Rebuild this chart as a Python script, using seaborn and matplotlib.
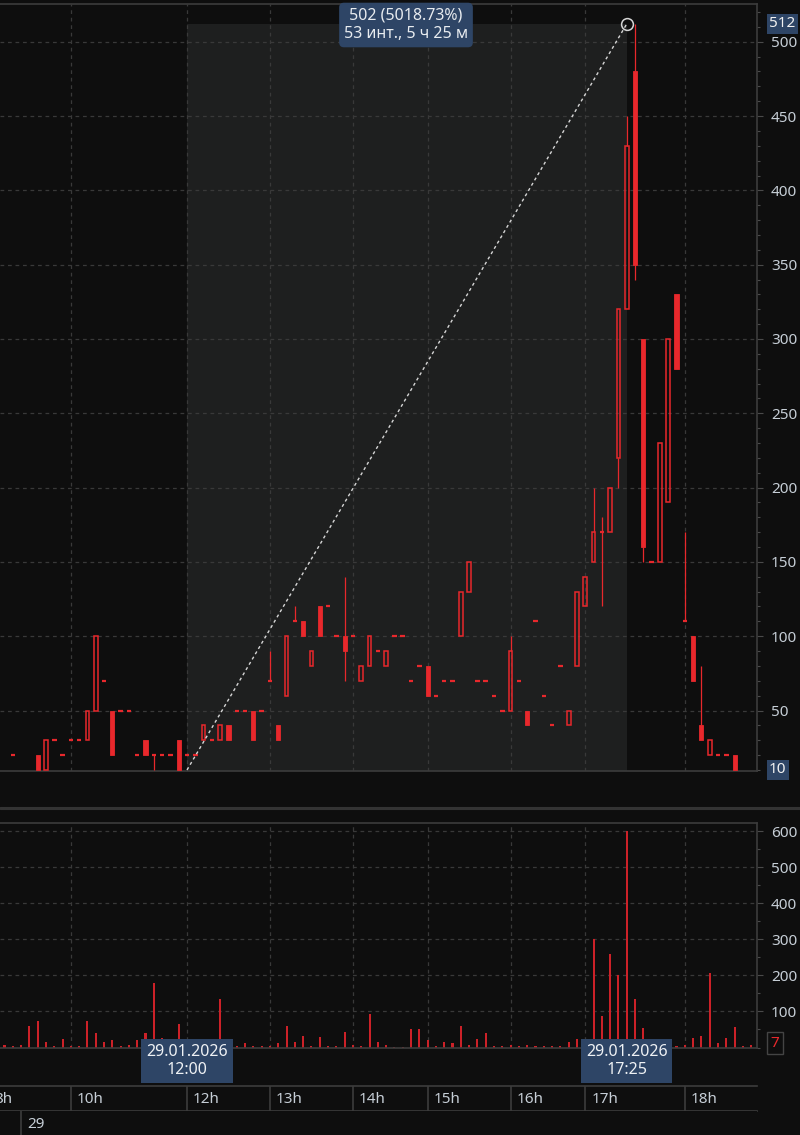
import numpy as np
import matplotlib
matplotlib.use("Agg")
import matplotlib.pyplot as plt
import matplotlib.transforms as mtransforms
from matplotlib.lines import Line2D
from matplotlib.ticker import MultipleLocator
import seaborn as sns

nan = np.nan

# 5-minute bars on an index axis (slot number), nan = no trade shown
opens = [nan, 20, nan, nan, 20, 10, 30, 20, 30, 30, 30, 50, 70, 50, 50, 50, 20, 30, 20, 20,
         20, 30, 20, 20, 30, 30, 30, 40, 50, 50, 50, 50, 70, 40, 60, 110, 110, 80, 120, 120,
         100, 100, 100, 70, 80, 90, 80, 100, 100, 70, 80, 80, 60, 70, 70, 100, 130, 70, 70, 60,
         50, 50, 70, 50, 110, 60, 40, 80, 40, 80, 120, 150, 170, 170, 220, 320, 480, 300, 150, 150,
         190, 330, 110, 100, 40, 20, 20, 20, 20, nan, nan]
highs = [nan, 20, nan, nan, 20, 30, 30, 20, 30, 30, 50, 100, 70, 50, 50, 50, 20, 30, 20, 20,
         20, 30, 20, 20, 40, 30, 40, 40, 50, 50, 50, 50, 90, 40, 100, 120, 110, 90, 120, 120,
         100, 140, 100, 80, 100, 90, 90, 100, 100, 70, 80, 80, 60, 70, 70, 130, 150, 70, 70, 60,
         50, 100, 70, 50, 110, 60, 40, 80, 50, 130, 140, 200, 180, 200, 320, 450, 512, 300, 150, 230,
         300, 330, 170, 100, 80, 30, 20, 20, 20, nan, nan]
lows = [nan, 20, nan, nan, 10, 10, 30, 20, 30, 30, 30, 50, 70, 20, 50, 50, 20, 20, 10, 20,
        20, 10, 20, 20, 30, 30, 30, 30, 50, 50, 30, 50, 70, 30, 60, 110, 100, 80, 100, 120,
        100, 70, 100, 70, 80, 90, 80, 100, 100, 70, 80, 60, 60, 70, 70, 100, 130, 70, 70, 60,
        50, 50, 70, 40, 110, 60, 40, 80, 40, 80, 120, 150, 120, 170, 200, 320, 340, 150, 150, 150,
        190, 280, 110, 70, 30, 20, 20, 20, 10, nan, nan]
closes = [nan, 20, nan, nan, 10, 30, 30, 20, 30, 30, 50, 100, 70, 20, 50, 50, 20, 20, 20, 20,
          20, 10, 20, 20, 40, 30, 40, 30, 50, 50, 30, 50, 70, 30, 100, 110, 100, 90, 100, 120,
          100, 90, 100, 80, 100, 90, 90, 100, 100, 70, 80, 60, 60, 70, 70, 130, 150, 70, 70, 60,
          50, 90, 70, 40, 110, 60, 40, 80, 50, 130, 140, 170, 170, 200, 320, 430, 350, 160, 150, 230,
          300, 280, 110, 70, 30, 30, 20, 20, 10, nan, nan]
volumes = [8, 4, 8, 60, 73, 16, 4, 24, 3, 4, 73, 40, 16, 20, 4, 8, 20, 40, 178, 25,
           5, 65, 5, 5, 5, 5, 135, 5, 3, 13, 4, 4, 4, 13, 60, 16, 32, 4, 28, 4,
           4, 44, 8, 4, 94, 16, 8, 2, 2, 52, 52, 20, 3, 16, 13, 60, 8, 24, 40, 4,
           3, 8, 4, 8, 3, 3, 3, 4, 16, 24, 10, 300, 87, 261, 201, 600, 136, 53, 10, 10,
           10, 4, 8, 25, 32, 207, 13, 25, 57, 4, 7]

hour_ticks = [-2, 8, 22, 32, 42, 51, 61, 70, 82]
hour_labels = ["8h", "10h", "12h", "13h", "14h", "15h", "16h", "17h", "18h"]
day_ticks = [2]
day_labels = ["29"]
price_ticks = [50, 100, 150, 200, 250, 300, 350, 400, 450, 500]
volume_ticks = [100, 200, 300, 400, 500, 600]

measure_slots = [22, 75]
measure_prices = [10, 512]
measure_text = "502 (5018.73%)\n53 инт., 5 ч 25 м"
date_labels = ["29.01.2026\n12:00", "29.01.2026\n17:25"]
last_price = 10
last_volume = 7

BG = "#0e0e0e"
SHADE = "#1e1f1f"
GRID = "#393939"
FRAME = "#3c3c3c"
TXT = "#c6ced6"
RED = "#e8282c"
VOL_RED = "#cc2128"
BOX = "#2e4566"

sns.set_style("dark", rc={"axes.facecolor": BG, "figure.facecolor": BG})
plt.rcParams["font.family"] = ["Noto Sans", "DejaVu Sans"]

W, H = 800, 1135
fig = plt.figure(figsize=(W / 100, H / 100), dpi=100)


def box(top, bottom, left=0, right=757):
    return [left / W, 1 - bottom / H, (right - left) / W, (bottom - top) / H]


ax = fig.add_axes(box(4, 771))
ax_vol = fig.add_axes(box(823, 1047.5))
ax_time = fig.add_axes(box(1085.7, 1110.7))
ax_day = fig.add_axes(box(1110.7, 1135))

xlim = (-0.54, 90.7)
o = np.array(opens, float)
h = np.array(highs, float)
l = np.array(lows, float)
c = np.array(closes, float)
slots = np.arange(len(o))
ok = ~np.isnan(o)
lo_body = np.minimum(o, c)
hi_body = np.maximum(o, c)
up = ok & (c > o)
down = ok & (c < o)
flat = ok & (c == o)

# ---- price panel
ylim = (9.3, 525.4)
ax.fill_between(measure_slots, ylim[0], measure_prices[1], color=SHADE, lw=0, zorder=0.2)
ax.vlines(slots[ok], l[ok], lo_body[ok], color=RED, lw=0.9, zorder=3)
ax.vlines(slots[ok], hi_body[ok], h[ok], color=RED, lw=0.9, zorder=3)
ax.bar(slots[down], (hi_body - lo_body)[down], bottom=lo_body[down], width=0.5,
       color=RED, edgecolor=RED, lw=0.6, zorder=3)
ax.bar(slots[up], (hi_body - lo_body)[up], bottom=lo_body[up], width=0.45,
       facecolor="none", edgecolor=RED, lw=1.1, zorder=3)
ax.hlines(o[flat], slots[flat] - 0.27, slots[flat] + 0.27, color=RED, lw=1.6, zorder=3)

ax.plot(measure_slots, measure_prices, ls=(0, (2.2, 2.2)), color="#d6d6d6", lw=1.0, zorder=4)
ax.plot(measure_slots[1], measure_prices[1], "o", ms=8.5, mfc="none", mec="#d6d6d6", mew=1.1, zorder=5)

ax.set_xticks(hour_ticks)
ax.set_xticklabels([])
ax.set_yticks(price_ticks)
ax.set_xlim(xlim)
ax.set_ylim(ylim)
ax.yaxis.set_minor_locator(MultipleLocator(10))
ax.yaxis.tick_right()
ax.set_axisbelow(True)
ax.grid(True, which="major", color=GRID, ls=(0, (3, 3)), lw=0.9)
ax.tick_params(axis="x", length=0)
ax.tick_params(axis="y", which="major", length=4, width=0.8, color="#4a4a4a",
               labelcolor=TXT, labelsize=11, pad=6)
ax.tick_params(axis="y", which="minor", length=2.5, width=0.8, color="#4a4a4a")
for side, sp in ax.spines.items():
    sp.set_color(FRAME)
    sp.set_linewidth(1.2)
    sp.set_visible(side != "left")

right_tr = mtransforms.blended_transform_factory(ax.transAxes, ax.transData)
for val in [measure_prices[1], last_price]:
    ax.text(1.016, val, str(val), transform=right_tr, ha="left", va="center", fontsize=11,
            color="#f2f2f2", bbox=dict(boxstyle="square,pad=0.15", fc=BOX, ec="none"), zorder=6)

fig.text(406 / W, 1 - 25 / H, measure_text, ha="center", va="center", fontsize=11.5,
         color="#e8ecf0", linespacing=1.25,
         bbox=dict(boxstyle="round,pad=0.3,rounding_size=0.3", fc=BOX, ec="none"))

# ---- volume panel
sns.barplot(x=slots, y=volumes, native_scale=True, width=0.25, color=VOL_RED,
            saturation=1, errorbar=None, linewidth=0, ax=ax_vol)
ax_vol.set_xlabel("")
ax_vol.set_ylabel("")
ax_vol.set_xticks(hour_ticks)
ax_vol.set_xticklabels([])
ax_vol.set_yticks(volume_ticks)
ax_vol.set_xlim(xlim)
ax_vol.set_ylim(0, 623.6)
ax_vol.yaxis.set_minor_locator(MultipleLocator(50))
ax_vol.yaxis.tick_right()
ax_vol.set_axisbelow(True)
ax_vol.grid(True, which="major", color=GRID, ls=(0, (3, 3)), lw=0.9)
ax_vol.tick_params(axis="x", length=0)
ax_vol.tick_params(axis="y", which="major", length=4, width=0.8, color="#4a4a4a",
                   labelcolor=TXT, labelsize=11, pad=6)
ax_vol.tick_params(axis="y", which="minor", length=2.5, width=0.8, color="#4a4a4a")
for side, sp in ax_vol.spines.items():
    sp.set_color(FRAME)
    sp.set_linewidth(1.2)
    sp.set_visible(side != "left")
vtr = mtransforms.blended_transform_factory(ax_vol.transAxes, ax_vol.transData)
ax_vol.text(1.018, last_volume + 5, str(last_volume), transform=vtr, ha="left", va="center",
            fontsize=11, color=RED, bbox=dict(boxstyle="square,pad=0.25", fc=BG, ec="#444444", lw=1))

date_tr = mtransforms.blended_transform_factory(ax_vol.transData, fig.transFigure)
for slot, lab in zip(measure_slots, date_labels):
    ax_vol.text(slot, 1 - 1061 / H, lab, transform=date_tr, ha="center", va="center",
                fontsize=11.5, color="#eef1f4", linespacing=1.2, clip_on=False, zorder=10,
                bbox=dict(boxstyle="square,pad=0.3", fc=BOX, ec="none"))

# ---- time scale
for a, ticks, labels in [(ax_time, hour_ticks, hour_labels), (ax_day, day_ticks, day_labels)]:
    a.set_facecolor(BG)
    a.set_xticks([])
    a.set_yticks([])
    a.set_xlim(xlim)
    a.set_ylim(0, 1)
    for side, sp in a.spines.items():
        sp.set_color(FRAME)
        sp.set_linewidth(1.2)
        sp.set_visible(side in ("top", "bottom") and a is ax_time)
    a.vlines(ticks, 0, 1, color=FRAME, lw=1.2)
    for t, lab in zip(ticks, labels):
        a.text(t + 0.72, 0.45, lab, ha="left", va="center", fontsize=11, color=TXT, clip_on=True)

fig.add_artist(Line2D([0, 1], [1 - 807.5 / H] * 2, color="#333333", lw=2.2))

fig.savefig("out.png", dpi=100, facecolor=BG)
